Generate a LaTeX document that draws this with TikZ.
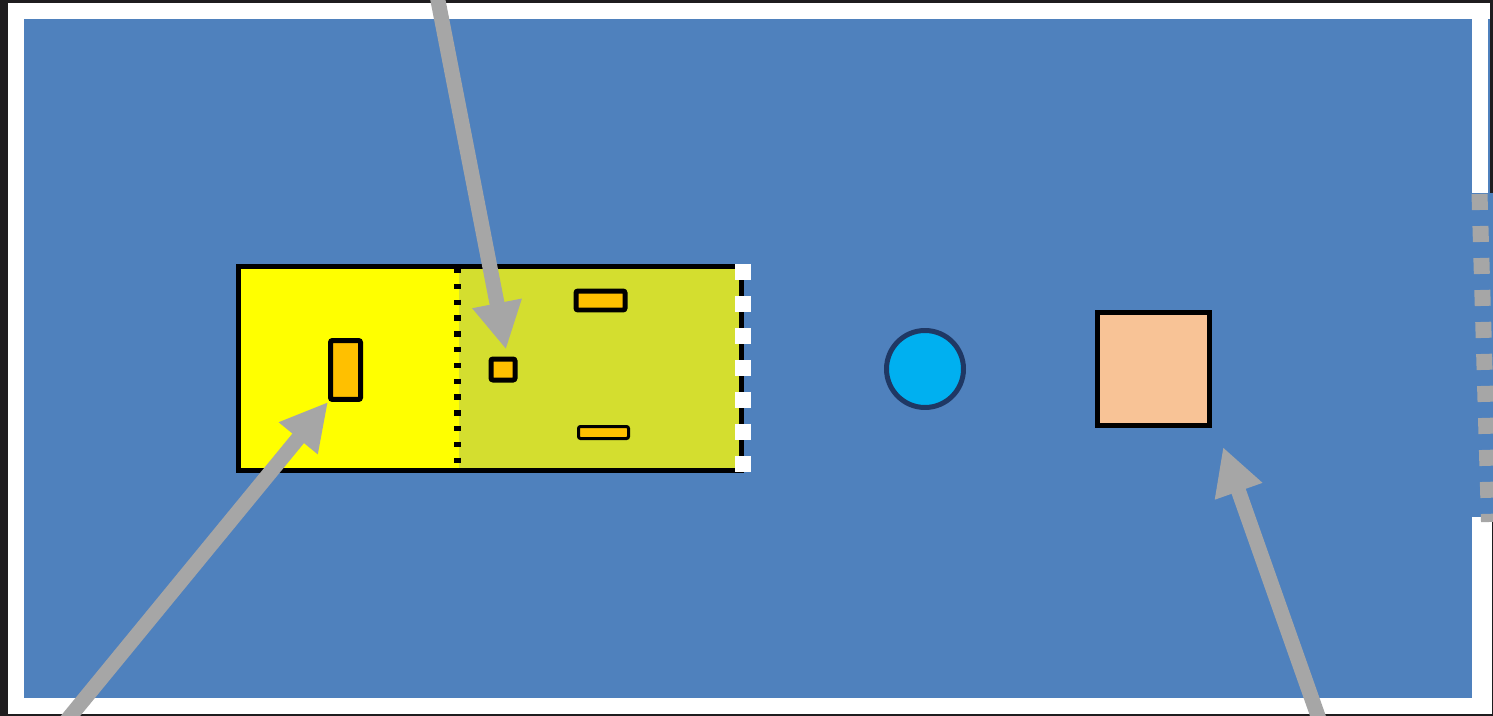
\documentclass[tikz,border=0pt]{standalone}
\usetikzlibrary{arrows.meta}
\definecolor{backdrop}{HTML}{1F1D1F}
\definecolor{pool}{HTML}{4F81BD}
\definecolor{lemon}{HTML}{FFFF00}
\definecolor{olive}{HTML}{D4DE2F}
\definecolor{amber}{HTML}{FFC000}
\definecolor{sky}{HTML}{00B0F0}
\definecolor{navy}{HTML}{1F3864}
\definecolor{peach}{HTML}{F8C396}
\definecolor{ash}{HTML}{A6A6A6}

\begin{document}
\begin{tikzpicture}[x=0.02cm, y=-0.02cm,
	box/.style={draw=black, line width=0.1cm, inner sep=0pt, rounded corners=0.04cm},
	pointer/.style={ash, line width=0.3cm, -{Triangle[length=0.94cm, width=0.94cm]}}]
	\useasboundingbox (0,0) rectangle (1493,716);
	% frame and pool
	\fill[backdrop] (0,0) rectangle (1493,716);
	\fill[white] (8,3) rectangle (1490,714);
	\fill[pool] (24,19) rectangle (1472,698);
	\fill[pool] (1488,19) rectangle (1490,193);
	\fill[pool] (1472,193) rectangle (1493,517);
	\fill[white] (1477,517) rectangle (1492,714);
	\draw[ash, line width=0.32cm, dash pattern=on 0.32cm off 0.32cm] (1479.5,194) -- (1489,522);
	% zone with its two halves
	\fill[lemon] (238,266) rectangle (459,471);
	\fill[olive] (459,266) rectangle (742,471);
	\node[draw=black, line width=0.1cm, minimum width=10.06cm, minimum height=4.08cm, inner sep=0pt] (zone) at (490,368.5) {};
	\draw[black, line width=0.14cm, dash pattern=on 0.11cm off 0.206cm] (457.5,268) -- (457.5,470);
	\draw[white, line width=0.32cm, dash pattern=on 0.32cm off 0.32cm] (743,264) -- (743,472);
	\node[box, fill=amber, minimum width=0.6cm, minimum height=1.18cm] (tall) at (345.5,370) {};
	\node[box, fill=amber, minimum width=0.48cm, minimum height=0.42cm] (small) at (503,369.5) {};
	\node[box, fill=amber, minimum width=0.98cm, minimum height=0.38cm] (wide) at (600.5,300.5) {};
	\node[box, fill=amber, line width=0.06cm, minimum width=1.0cm, minimum height=0.24cm] (thin) at (603.5,432.5) {};
	\node[circle, draw=navy, fill=sky, line width=0.1cm, minimum size=1.54cm, inner sep=0pt] (ball) at (925,369) {};
	\node[draw=black, fill=peach, line width=0.1cm, minimum width=2.24cm, minimum height=2.26cm, inner sep=0pt] (crate) at (1153.5,369) {};
	% pointers
	\coordinate (tailA) at (434,-20);
	\coordinate (tailB) at (54,736);
	\coordinate (tailC) at (1325,736);
	\draw[pointer] (tailA) -- ([xshift=0.06cm, yshift=0.14cm]small.north);
	\draw[pointer] (tailB) -- (tall.south west);
	\draw[pointer] (tailC) -- ([xshift=0.22cm, yshift=-0.38cm]crate.south east);
\end{tikzpicture}
\end{document}
